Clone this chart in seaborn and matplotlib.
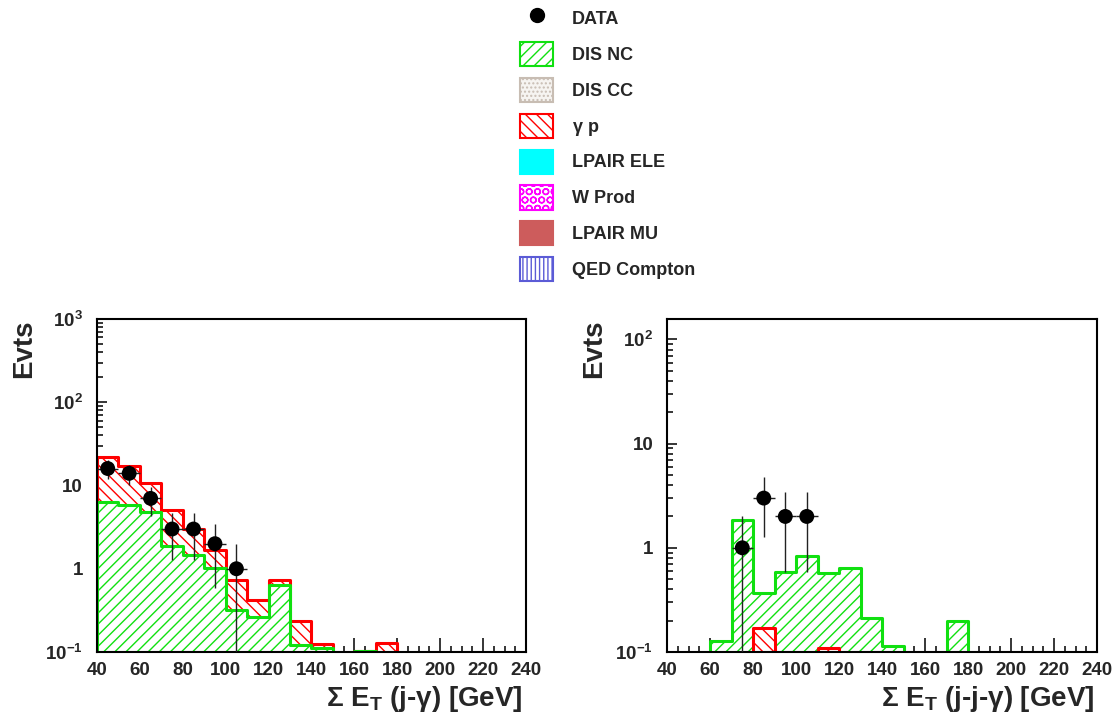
import numpy as np
import pandas as pd
import matplotlib
matplotlib.use("Agg")
import matplotlib.pyplot as plt
import seaborn as sns
from matplotlib.patches import Patch
from matplotlib.lines import Line2D
from matplotlib.ticker import FixedLocator, MultipleLocator, LogLocator, NullFormatter

# 10 GeV bins from 40 to 240 GeV
bin_edges = list(range(40, 250, 10))
bin_centers = [e + 5 for e in bin_edges[:-1]]

# left panel: sum E_T (j-gamma)
left_disnc = [6.4, 5.9, 4.8, 1.9, 1.45, 1.03, 0.32, 0.26, 0.63, 0.123,
              0.112, 0, 0.103, 0, 0, 0, 0, 0, 0, 0]
left_gammap = [22.0, 17.0, 10.7, 5.1, 3.0, 1.7, 0.73, 0.42, 0.74, 0.234,
               0.126, 0, 0.103, 0.13, 0, 0, 0, 0, 0, 0]
left_data_x = [45, 55, 65, 75, 85, 95, 105]
left_data_n = [16, 14, 7, 3, 3, 2, 1]

# right panel: sum E_T (j-j-gamma)
right_disnc = [0, 0, 0.128, 1.85, 0.365, 0.58, 0.84, 0.57, 0.635, 0.21,
               0.115, 0, 0, 0.20, 0, 0, 0, 0, 0, 0]
right_gammap = [0, 0, 0, 0, 0.17, 0, 0, 0.109, 0, 0,
                0, 0, 0, 0, 0, 0, 0, 0, 0, 0]
right_data_x = [75, 85, 95, 105]
right_data_n = [1, 3, 2, 2]

left_yticks = [0.1, 1, 10, 100, 1000]
left_yticklabels = [r"$\mathregular{10^{-1}}$", "1", "10",
                    r"$\mathregular{10^{2}}$", r"$\mathregular{10^{3}}$"]
right_yticks = [0.1, 1, 10, 100]
right_yticklabels = [r"$\mathregular{10^{-1}}$", "1", "10", r"$\mathregular{10^{2}}$"]

legend_labels = ["DATA", "DIS NC", "DIS CC", r"$\mathregular{\gamma}$ p", "LPAIR ELE",
                 "W Prod", "LPAIR MU", "QED Compton"]

GREEN = "#10e010"
RED = "#ff0000"

sns.set_style("white")
plt.rcParams["font.family"] = ["Liberation Sans", "DejaVu Sans"]
plt.rcParams["font.weight"] = "bold"
plt.rcParams["axes.labelweight"] = "bold"
plt.rcParams["mathtext.fontset"] = "custom"
plt.rcParams["mathtext.rm"] = "Liberation Sans:bold"
plt.rcParams["mathtext.it"] = "Liberation Sans:bold"
plt.rcParams["mathtext.bf"] = "Liberation Sans:bold"
plt.rcParams["mathtext.sf"] = "Liberation Sans:bold"
plt.rcParams["hatch.linewidth"] = 1.0
plt.rcParams["axes.linewidth"] = 1.5
plt.rcParams["axes.edgecolor"] = "black"

fig = plt.figure(figsize=(11.16, 7.19), dpi=100)
ax_l = fig.add_axes([0.0869, 0.0932, 0.3844, 0.4631])
ax_r = fig.add_axes([0.5977, 0.0932, 0.3853, 0.4631])


def draw_hist(ax, values, color, hatch):
    df = pd.DataFrame({"et": bin_centers, "w": values})
    sns.histplot(data=df, x="et", weights="w", bins=bin_edges, element="step",
                 fill=True, facecolor="white", edgecolor=color, hatch=hatch,
                 linewidth=2.2, ax=ax)


def draw_data(ax, x, n):
    n = np.array(n, dtype=float)
    ax.errorbar(x, n, xerr=5, yerr=np.sqrt(n), fmt="none", ecolor="#222222",
                elinewidth=1.0, capsize=0, zorder=5)
    sns.scatterplot(x=x, y=n, color="black", s=115, edgecolor="none", zorder=6, ax=ax)


def style_axes(ax, ymax, yticks, yticklabels, xlabel):
    ax.set_yscale("log")
    ax.set_xlim(40, 240)
    ax.set_ylim(0.1, ymax)
    ax.xaxis.set_major_locator(MultipleLocator(20))
    ax.xaxis.set_minor_locator(MultipleLocator(5))
    ax.yaxis.set_major_locator(FixedLocator(yticks))
    ax.set_yticklabels(yticklabels)
    ax.yaxis.set_minor_locator(LogLocator(base=10, subs=np.arange(2, 10)))
    ax.yaxis.set_minor_formatter(NullFormatter())
    ax.tick_params(which="both", direction="in", top=False, right=False,
                   bottom=True, left=True, width=1.1, labelsize=13.5, color="black")
    ax.tick_params(which="major", axis="x", length=10, pad=7)
    ax.tick_params(which="minor", axis="x", length=4.5)
    ax.tick_params(which="major", axis="y", length=7, pad=10)
    ax.tick_params(which="minor", axis="y", length=4)
    for sp in ax.spines.values():
        sp.set_visible(True)
        sp.set_linewidth(1.5)
    ax.set_xlabel(xlabel, fontsize=20, loc="right")
    ax.xaxis.set_label_coords(0.993, -0.095)
    ax.set_ylabel("Evts", fontsize=20, loc="top")
    ax.yaxis.set_label_coords(-0.14, 1.0)


# left panel: gamma p drawn first, DIS NC over it
draw_hist(ax_l, left_gammap, RED, "\\\\\\")
draw_hist(ax_l, left_disnc, GREEN, "///")
draw_data(ax_l, left_data_x, left_data_n)
style_axes(ax_l, 1000, left_yticks, left_yticklabels,
           r"$\mathregular{\Sigma}$ E$_\mathregular{T}$ (j-$\mathregular{\gamma}$) [GeV]")

# right panel: DIS NC first, gamma p over it
draw_hist(ax_r, right_disnc, GREEN, "///")
draw_hist(ax_r, right_gammap, RED, "\\\\\\")
draw_data(ax_r, right_data_x, right_data_n)
style_axes(ax_r, 157, right_yticks, right_yticklabels,
           r"$\mathregular{\Sigma}$ E$_\mathregular{T}$ (j-j-$\mathregular{\gamma}$) [GeV]")

handles = [
    Line2D([], [], marker="o", color="black", linestyle="none", markersize=10),
    Patch(facecolor="white", edgecolor=GREEN, hatch="///", linewidth=1.5),
    Patch(facecolor="#f6f4f1", edgecolor="#c8bdb3", hatch="....", linewidth=1.5),
    Patch(facecolor="white", edgecolor=RED, hatch="\\\\\\", linewidth=1.5),
    Patch(facecolor="#00ffff", edgecolor="#00ffff", linewidth=1.5),
    Patch(facecolor="white", edgecolor="#ff00ff", hatch="OO", linewidth=1.5),
    Patch(facecolor="#cd5c5c", edgecolor="#cd5c5c", linewidth=1.5),
    Patch(facecolor="white", edgecolor="#5b5bd6", hatch="||||", linewidth=1.5),
]
fig.legend(handles, legend_labels, loc="upper left", bbox_to_anchor=(520 / 1116, 1 - 6.0 / 719),
           frameon=False, fontsize=13, handlelength=1.83, handleheight=1.68,
           handletextpad=1.05, labelspacing=0.65, borderpad=0, borderaxespad=0)

fig.savefig("out.png", dpi=100)
